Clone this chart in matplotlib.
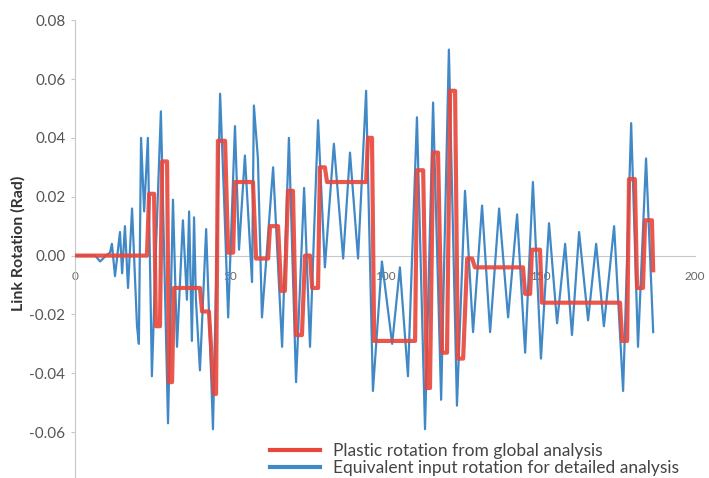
import matplotlib
matplotlib.use('Agg')
import matplotlib.pyplot as plt
from matplotlib.lines import Line2D

plt.rcParams['font.family'] = ['Lato', 'DejaVu Sans']
plt.rcParams['axes.unicode_minus'] = False

# equivalent input rotation (blue)
blue_x = [0, 6.5, 8.1, 10.0, 11.3, 11.9, 12.9, 14.5, 15.2, 16.1, 17.1, 18.4, 20.0, 20.6,
          21.3, 22.3, 23.5, 24.8, 26.1, 27.7, 30.0, 31.6, 32.9, 34.8, 36.1, 36.8, 37.7,
          38.4, 39.0, 40.3, 42.3, 44.5, 46.8, 48.1, 49.4, 51.6, 52.9, 54.8, 57.1, 57.7,
          59.0, 60.3, 63.9, 66.8, 69.0, 71.3, 73.9, 75.8, 78.4, 80.6, 83.5, 86.5, 88.7,
          91.3, 93.9, 96.1, 99.0, 102.3, 104.8, 107.4, 110.3, 112.9, 115.5, 118.1, 120.6,
          123.2, 125.8, 128.4, 131.3, 133.9, 136.8, 139.7, 142.6, 145.2, 147.7, 150.3,
          152.9, 155.5, 158.1, 160.3, 162.6, 165.5, 168.1, 170.6, 173.9, 176.8, 179.4,
          181.6, 184.2, 186.5]
blue_y = [0, 0, -0.002, 0, 0.001, 0.004, -0.007, 0.008, -0.006, 0.010, -0.011, 0.016,
          -0.024, -0.030, 0.040, 0.015, 0.040, -0.041, 0.002, 0.049, -0.057, 0.019, -0.031,
          0.012, -0.015, 0.015, -0.029, 0.013, -0.015, -0.039, 0.009, -0.059, 0.055, 0.019,
          -0.021, 0.044, 0.002, 0.034, -0.009, 0.051, 0.033, -0.021, 0.030, -0.031, 0.040,
          -0.043, 0.023, -0.031, 0.046, -0.004, 0.038, -0.001, 0.035, -0.001, 0.056, -0.046,
          -0.002, -0.030, -0.004, -0.041, 0.047, -0.059, 0.052, -0.049, 0.070, -0.051, 0.022,
          -0.026, 0.017, -0.026, 0.016, -0.021, 0.014, -0.033, 0.025, -0.035, 0.011, -0.023,
          0.004, -0.027, 0.008, -0.022, 0.004, -0.024, 0.010, -0.046, 0.045, -0.031, 0.033,
          -0.026]

# plastic rotation from global analysis (red step line)
red_x = [0, 23.2, 23.9, 25.5, 26.1, 27.4, 28.1, 29.7, 30.3, 31.3, 31.9, 40.3, 41.0, 43.2,
         44.8, 45.5, 46.1, 48.4, 49.4, 51.0, 51.6, 57.4, 58.4, 62.3, 62.9, 65.5, 66.5, 67.7,
         68.7, 70.3, 71.3, 73.2, 74.2, 75.8, 76.5, 78.4, 79.0, 80.6, 81.3, 93.9, 94.5, 95.8,
         96.5, 109.7, 110.3, 112.3, 113.5, 114.5, 115.5, 117.1, 118.4, 120.0, 121.0, 122.6,
         123.5, 125.2, 126.5, 128.1, 129.0, 144.5, 145.2, 146.8, 147.4, 150.0, 150.6, 175.8,
         176.5, 178.1, 178.7, 180.6, 181.3, 183.2, 183.9, 186.1, 186.5]
red_y = [0, 0, 0.021, 0.021, -0.024, -0.024, 0.032, 0.032, -0.043, -0.043, -0.011, -0.011,
         -0.019, -0.019, -0.047, -0.047, 0.039, 0.039, 0.001, 0.001, 0.025, 0.025, -0.001,
         -0.001, 0.010, 0.010, -0.012, -0.012, 0.022, 0.022, -0.027, -0.027, 0.000, 0.000,
         -0.011, -0.011, 0.030, 0.030, 0.025, 0.025, 0.040, 0.040, -0.029, -0.029, 0.029,
         0.029, -0.045, -0.045, 0.035, 0.035, -0.033, -0.033, 0.056, 0.056, -0.035, -0.035,
         -0.001, -0.001, -0.004, -0.004, -0.013, -0.013, 0.002, 0.002, -0.016, -0.016,
         -0.029, -0.029, 0.026, 0.026, -0.011, -0.011, 0.012, 0.012, -0.005]

yticks = [-0.08, -0.06, -0.04, -0.02, 0.00, 0.02, 0.04, 0.06, 0.08]
xticks = [0, 50, 100, 150, 200]

red_c = '#e8463a'
blue_c = '#4189c6'

fig = plt.figure(figsize=(7.09, 4.78), dpi=100)
ax = fig.add_axes([0.1058, -0.0272, 0.8745, 0.985])

ax.plot(blue_x, blue_y, color=blue_c, lw=1.6, zorder=2)
ax.plot(red_x, red_y, color=red_c, lw=3.0, alpha=0.9, zorder=3)

ax.set_xlim(0, 200)
ax.set_ylim(-0.08, 0.08)
ax.set_yticks(yticks)
ax.set_yticklabels(['%.2f' % v for v in yticks])
ax.set_xticks(xticks)

for s in ['top', 'right']:
    ax.spines[s].set_visible(False)
ax.spines['bottom'].set_position(('data', 0))
ax.spines['bottom'].set_color('#c8c8c8')
ax.spines['left'].set_color('#c8c8c8')
ax.spines['bottom'].set_zorder(1)
ax.tick_params(axis='y', length=3, color='#c8c8c8', labelsize=11, labelcolor='#555555', pad=4)
ax.tick_params(axis='x', length=0, labelsize=8.5, labelcolor='#666666', pad=11)

fig.text(18 / 709, 1 - 243 / 478, 'Link Rotation (Rad)', rotation=90, ha='center', va='center',
         fontsize=11.5, fontweight='bold', color='#333333')

handles = [Line2D([], [], color=red_c, lw=3), Line2D([], [], color=blue_c, lw=3)]
labels = ['Plastic rotation from global analysis', 'Equivalent input rotation for detailed analysis']
fig.legend(handles, labels, loc='lower left', bbox_to_anchor=(0.381, 0.004), frameon=False,
           borderpad=0, borderaxespad=0, handlelength=2.9, handletextpad=0.7, labelspacing=0.05,
           fontsize=12.5, labelcolor='#444444')

fig.savefig('out.png', dpi=100)
